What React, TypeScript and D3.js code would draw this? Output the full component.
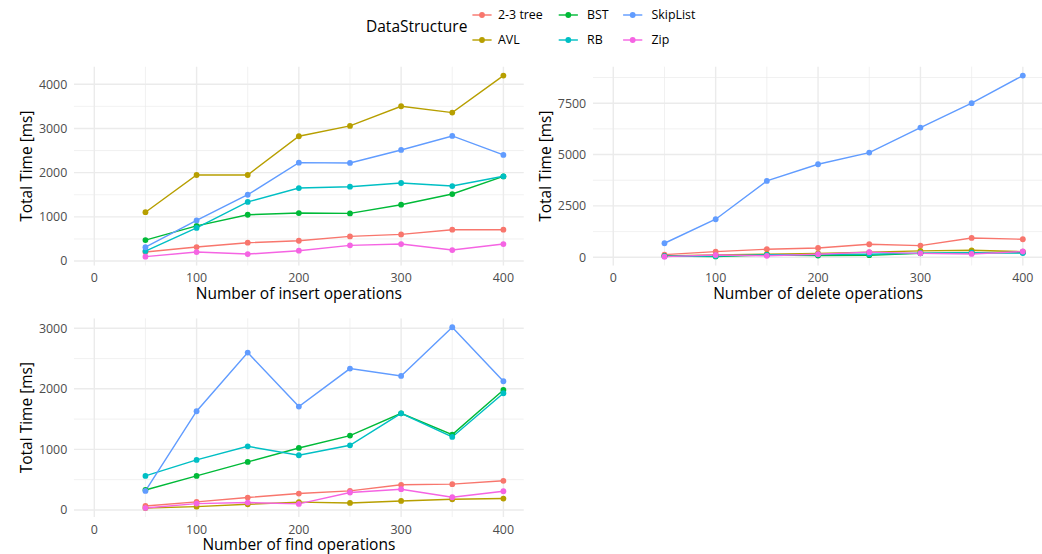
import React from "react";
import * as d3 from "d3";

const ops = [50, 100, 150, 200, 250, 300, 350, 400];
const structures = ["2-3 tree", "AVL", "BST", "RB", "SkipList", "Zip"];
const colors = ["#F8766D", "#B79F00", "#00BA38", "#00BFC4", "#619CFF", "#F564E3"];

const insert23 = [205, 317, 415, 460, 558, 603, 709, 709];
const insertAVL = [1105, 1947, 1947, 2823, 3057, 3502, 3358, 4196];
const insertBST = [475, 795, 1048, 1086, 1078, 1275, 1516, 1915];
const insertRB = [226, 750, 1338, 1652, 1682, 1766, 1697, 1917];
const insertSkip = [313, 920, 1500, 2226, 2219, 2513, 2830, 2400];
const insertZip = [100, 204, 158, 234, 355, 385, 249, 385];

const delete23 = [130, 276, 390, 454, 633, 568, 941, 876];
const deleteAVL = [60, 110, 150, 190, 240, 310, 340, 270];
const deleteBST = [60, 40, 110, 80, 100, 190, 220, 230];
const deleteRB = [50, 60, 120, 130, 150, 200, 220, 200];
const deleteSkip = [682, 1850, 3717, 4528, 5096, 6314, 7500, 8845];
const deleteZip = [30, 110, 70, 150, 250, 190, 160, 280];

const find23 = [66, 133, 205, 271, 315, 415, 426, 481];
const findAVL = [33, 55, 94, 130, 116, 149, 177, 188];
const findBST = [330, 562, 793, 1024, 1228, 1596, 1244, 1982];
const findRB = [562, 826, 1051, 903, 1068, 1596, 1206, 1927];
const findSkip = [314, 1630, 2598, 1707, 2334, 2213, 3017, 2125];
const findZip = [33, 105, 122, 100, 288, 343, 210, 310];

const xTicks = [0, 100, 200, 300, 400];
const insertTicks = [0, 1000, 2000, 3000, 4000];
const deleteTicks = [0, 2500, 5000, 7500];
const findTicks = [0, 1000, 2000, 3000];

const panels = [
  { title: "Number of insert operations", series: [insert23, insertAVL, insertBST, insertRB, insertSkip, insertZip], ticks: insertTicks, left: 73.85, right: 523.85, top: 66.5, bottom: 265.7 },
  { title: "Number of delete operations", series: [delete23, deleteAVL, deleteBST, deleteRB, deleteSkip, deleteZip], ticks: deleteTicks, left: 592.8, right: 1043.3, top: 66.5, bottom: 265.7 },
  { title: "Number of find operations", series: [find23, findAVL, findBST, findRB, findSkip, findZip], ticks: findTicks, left: 73.85, right: 523.85, top: 318.2, bottom: 517 },
];

const FONT = "'Open Sans', 'Noto Sans', sans-serif";
const GRID = "#EBEBEB";
const TITLE_SIZE = 15.5;
const TICK_SIZE = 12.4;

function minorOf(ticks: number[]) {
  const step = ticks[1] - ticks[0];
  const out: number[] = [];
  for (let i = -1; i < ticks.length; i++) out.push(ticks[0] + step * i + step / 2);
  return out;
}

function Panel({ p }: { p: typeof panels[0] }) {
  const x = d3.scaleLinear().domain([-20, 420]).range([p.left, p.right]);
  const all = p.series.flat();
  const mn = d3.min(all)!;
  const mx = d3.max(all)!;
  const sp = mx - mn;
  const yd: [number, number] = [mn - sp * 0.05, mx + sp * 0.05];
  const y = d3.scaleLinear().domain(yd).range([p.bottom, p.top]);
  const line = d3.line<number>().x((_, i) => x(ops[i])).y((d) => y(d));
  const xMinor = minorOf(xTicks).filter((v) => v > -20 && v < 420);
  const yMinor = minorOf(p.ticks).filter((v) => v > yd[0] && v < yd[1]);
  const clipId = "clip" + Math.round(p.left) + Math.round(p.top);
  return (
    <g>
      <defs>
        <clipPath id={clipId}>
          <rect x={p.left} y={p.top} width={p.right - p.left} height={p.bottom - p.top} />
        </clipPath>
      </defs>
      <g clipPath={`url(#${clipId})`}>
        {yMinor.map((v) => (
          <line key={"ym" + v} x1={p.left} x2={p.right} y1={y(v)} y2={y(v)} stroke={GRID} strokeWidth={0.71} />
        ))}
        {xMinor.map((v) => (
          <line key={"xm" + v} x1={x(v)} x2={x(v)} y1={p.top} y2={p.bottom} stroke={GRID} strokeWidth={0.71} />
        ))}
        {p.ticks.map((v) => (
          <line key={"yM" + v} x1={p.left} x2={p.right} y1={y(v)} y2={y(v)} stroke={GRID} strokeWidth={1.42} />
        ))}
        {xTicks.map((v) => (
          <line key={"xM" + v} x1={x(v)} x2={x(v)} y1={p.top} y2={p.bottom} stroke={GRID} strokeWidth={1.42} />
        ))}
        {p.series.map((s, i) => (
          <path key={"l" + i} d={line(s)!} fill="none" stroke={colors[i]} strokeWidth={1.42} />
        ))}
        {p.series.map((s, i) =>
          s.map((v, j) => <circle key={"p" + i + "-" + j} cx={x(ops[j])} cy={y(v)} r={2.9} fill={colors[i]} />)
        )}
      </g>
      {p.ticks.map((v) => (
        <text key={"yt" + v} x={p.left - 6.6} y={y(v)} dy="0.35em" textAnchor="end" fontSize={TICK_SIZE} fill="#4D4D4D" fontFamily={FONT}>
          {v}
        </text>
      ))}
      {xTicks.map((v) => (
        <text key={"xt" + v} x={x(v)} y={p.bottom + 12.2} dy="0.35em" textAnchor="middle" fontSize={TICK_SIZE} fill="#4D4D4D" fontFamily={FONT}>
          {v}
        </text>
      ))}
      <text x={(x(0) + x(400)) / 2} y={p.bottom + 28} dy="0.35em" textAnchor="middle" fontSize={TITLE_SIZE} fill="#000" fontFamily={FONT}>
        {p.title}
      </text>
      <text
        transform={`translate(${p.left - 46.8},${(p.top + p.bottom) / 2}) rotate(-90)`}
        dy="0.35em"
        textAnchor="middle"
        fontSize={TITLE_SIZE}
        fill="#000"
        fontFamily={FONT}
      >
        Total Time [ms]
      </text>
    </g>
  );
}

const legendCols = [482, 568.3, 632.7];
const legendLabelX = [498, 587, 651.5];
const legendRows = [15, 40];

export default function App() {
  return (
    <svg width={1042} height={554} style={{ position: "absolute", left: 0, top: 0, background: "#fff" }}>
      <rect width={1042} height={554} fill="#fff" />
      {panels.map((p, i) => (
        <Panel key={i} p={p} />
      ))}
      <text x={366} y={26.7} dy="0.35em" fontSize={TITLE_SIZE} fill="#000" fontFamily={FONT}>
        DataStructure
      </text>
      {structures.map((s, i) => {
        const col = Math.floor(i / 2);
        const cx = legendCols[col];
        const cy = legendRows[i % 2];
        return (
          <g key={s}>
            <line x1={cx - 9.6} x2={cx + 9.6} y1={cy} y2={cy} stroke={colors[i]} strokeWidth={1.42} />
            <circle cx={cx} cy={cy} r={2.9} fill={colors[i]} />
            <text x={legendLabelX[col]} y={cy} dy="0.35em" fontSize={TICK_SIZE} fill="#000" fontFamily={FONT}>
              {s}
            </text>
          </g>
        );
      })}
    </svg>
  );
}
